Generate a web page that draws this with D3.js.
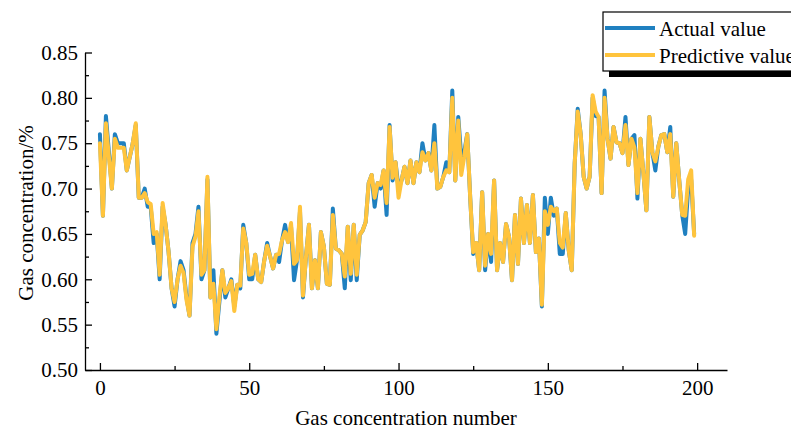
<!DOCTYPE html>
<html>
<head>
<meta charset="utf-8">
<script src="https://cdn.jsdelivr.net/npm/d3@7"></script>
<style>
  body { margin: 0; background: #fff; }
  svg { display: block; font-family: "Liberation Serif", "Times New Roman", serif; }
</style>
</head>
<body>
<div id="chart"></div>
<script>
// Measured and predicted gas concentration (%) for samples 0..199
var actualValues = [
  0.760, 0.670, 0.780, 0.740, 0.700, 0.760, 0.750, 0.750, 0.750, 0.720,
  0.735, 0.750, 0.770, 0.690, 0.690, 0.700, 0.680, 0.680, 0.640, 0.650,
  0.600, 0.680, 0.660, 0.630, 0.590, 0.570, 0.600, 0.620, 0.610, 0.580,
  0.560, 0.640, 0.650, 0.680, 0.600, 0.610, 0.710, 0.580, 0.610, 0.540,
  0.575, 0.610, 0.580, 0.590, 0.600, 0.570, 0.594, 0.590, 0.660, 0.640,
  0.600, 0.600, 0.627, 0.600, 0.597, 0.620, 0.640, 0.625, 0.612, 0.627,
  0.619, 0.643, 0.660, 0.641, 0.658, 0.599, 0.621, 0.675, 0.580, 0.625,
  0.660, 0.590, 0.621, 0.590, 0.652, 0.636, 0.595, 0.594, 0.678, 0.634,
  0.632, 0.628, 0.590, 0.658, 0.599, 0.660, 0.599, 0.649, 0.654, 0.663,
  0.706, 0.715, 0.680, 0.706, 0.700, 0.720, 0.671, 0.770, 0.709, 0.729,
  0.700, 0.709, 0.724, 0.706, 0.731, 0.706, 0.729, 0.718, 0.750, 0.731,
  0.739, 0.720, 0.770, 0.700, 0.702, 0.713, 0.729, 0.718, 0.808, 0.709,
  0.779, 0.735, 0.740, 0.760, 0.690, 0.628, 0.640, 0.610, 0.696, 0.610,
  0.650, 0.619, 0.709, 0.610, 0.640, 0.619, 0.661, 0.647, 0.599, 0.671,
  0.617, 0.689, 0.640, 0.682, 0.640, 0.693, 0.630, 0.645, 0.570, 0.690,
  0.650, 0.690, 0.670, 0.678, 0.628, 0.628, 0.673, 0.632, 0.610, 0.728,
  0.788, 0.760, 0.713, 0.700, 0.713, 0.800, 0.780, 0.779, 0.695, 0.808,
  0.755, 0.733, 0.768, 0.751, 0.750, 0.739, 0.779, 0.726, 0.755, 0.759,
  0.689, 0.755, 0.717, 0.676, 0.779, 0.740, 0.720, 0.746, 0.759, 0.760,
  0.740, 0.768, 0.691, 0.750, 0.709, 0.671, 0.650, 0.700, 0.710, 0.650
];

var predictiveValues = [
  0.750, 0.670, 0.772, 0.735, 0.700, 0.755, 0.745, 0.745, 0.745, 0.720,
  0.735, 0.750, 0.772, 0.690, 0.690, 0.695, 0.685, 0.683, 0.650, 0.652,
  0.605, 0.684, 0.660, 0.630, 0.590, 0.575, 0.600, 0.615, 0.607, 0.577,
  0.560, 0.636, 0.647, 0.675, 0.605, 0.610, 0.713, 0.580, 0.595, 0.545,
  0.580, 0.610, 0.585, 0.590, 0.598, 0.565, 0.594, 0.593, 0.656, 0.640,
  0.605, 0.606, 0.627, 0.600, 0.597, 0.620, 0.637, 0.625, 0.612, 0.627,
  0.628, 0.643, 0.652, 0.641, 0.662, 0.617, 0.621, 0.680, 0.582, 0.625,
  0.660, 0.590, 0.621, 0.590, 0.652, 0.636, 0.595, 0.594, 0.671, 0.634,
  0.632, 0.628, 0.603, 0.658, 0.606, 0.660, 0.605, 0.649, 0.654, 0.663,
  0.706, 0.715, 0.690, 0.706, 0.704, 0.720, 0.684, 0.768, 0.712, 0.729,
  0.690, 0.709, 0.724, 0.706, 0.731, 0.706, 0.729, 0.718, 0.740, 0.731,
  0.739, 0.720, 0.750, 0.700, 0.702, 0.713, 0.720, 0.718, 0.800, 0.709,
  0.775, 0.715, 0.735, 0.760, 0.690, 0.630, 0.640, 0.610, 0.696, 0.615,
  0.650, 0.628, 0.709, 0.610, 0.640, 0.619, 0.661, 0.647, 0.599, 0.671,
  0.617, 0.689, 0.640, 0.682, 0.640, 0.693, 0.630, 0.645, 0.572, 0.675,
  0.660, 0.680, 0.675, 0.678, 0.640, 0.635, 0.673, 0.632, 0.610, 0.728,
  0.785, 0.760, 0.713, 0.700, 0.713, 0.803, 0.785, 0.779, 0.695, 0.800,
  0.755, 0.733, 0.768, 0.751, 0.750, 0.739, 0.770, 0.726, 0.755, 0.745,
  0.695, 0.755, 0.717, 0.676, 0.779, 0.740, 0.730, 0.746, 0.759, 0.760,
  0.740, 0.760, 0.691, 0.750, 0.709, 0.671, 0.670, 0.710, 0.720, 0.648
];

var xTicks = [0, 50, 100, 150, 200];
var xMinorTicks = [25, 75, 125, 175];
var yTicks = [0.50, 0.55, 0.60, 0.65, 0.70, 0.75, 0.80, 0.85];
var yMinorTicks = [0.525, 0.575, 0.625, 0.675, 0.725, 0.775, 0.825];

var seriesNames = ['Actual value', 'Predictive value'];
var seriesColors = ['#1f80c0', '#ffc43d'];

var width = 791, height = 429;
var fontSize = 21;

var svg = d3.select('#chart').append('svg')
  .attr('width', width)
  .attr('height', height);

var x = d3.scaleLinear().domain([-5, 210]).range([85, 727]);
var y = d3.scaleLinear().domain([0.5, 0.85]).range([370, 52.5]);

// Axes: ticks point inward, minor ticks shorter
var xAxis = svg.append('g')
  .attr('transform', 'translate(0,' + y(0.5) + ')')
  .call(d3.axisBottom(x).tickValues(xTicks).tickSize(-7).tickSizeOuter(0).tickPadding(10).tickFormat(d3.format('d')));

svg.append('g')
  .attr('transform', 'translate(0,' + y(0.5) + ')')
  .call(d3.axisBottom(x).tickValues(xMinorTicks).tickSize(-4).tickFormat(''))
  .select('.domain').remove();

var yAxis = svg.append('g')
  .attr('transform', 'translate(' + x(-5) + ',0)')
  .call(d3.axisLeft(y).tickValues(yTicks).tickSize(-7).tickSizeOuter(0).tickPadding(7).tickFormat(d3.format('.2f')));

svg.append('g')
  .attr('transform', 'translate(' + x(-5) + ',0)')
  .call(d3.axisLeft(y).tickValues(yMinorTicks).tickSize(-4).tickFormat(''))
  .select('.domain').remove();

svg.selectAll('.domain, .tick line')
  .attr('stroke', '#000')
  .attr('stroke-width', 1.3);

svg.selectAll('.tick text')
  .attr('font-family', '"Liberation Serif", "Times New Roman", serif')
  .attr('font-size', fontSize)
  .attr('fill', '#000');

// Axis titles
svg.append('text')
  .attr('x', 406)
  .attr('y', 425)
  .attr('text-anchor', 'middle')
  .attr('font-size', fontSize)
  .text('Gas concentration number');

svg.append('text')
  .attr('transform', 'translate(33,213) rotate(-90)')
  .attr('text-anchor', 'middle')
  .attr('font-size', fontSize)
  .text('Gas concentration/%');

// Lines: actual underneath, prediction on top
var line = d3.line()
  .x(function (d, i) { return x(i); })
  .y(function (d) { return y(d); });

[actualValues, predictiveValues].forEach(function (values, k) {
  svg.append('path')
    .datum(values)
    .attr('fill', 'none')
    .attr('stroke', seriesColors[k])
    .attr('stroke-width', 4)
    .attr('stroke-linejoin', 'round')
    .attr('stroke-linecap', 'round')
    .attr('d', line);
});

// Legend with drop shadow
var legend = svg.append('g');
legend.append('rect')
  .attr('x', 609).attr('y', 18)
  .attr('width', 200).attr('height', 59)
  .attr('fill', '#000');
legend.append('rect')
  .attr('x', 603).attr('y', 12)
  .attr('width', 200).attr('height', 59)
  .attr('fill', '#fff')
  .attr('stroke', '#000')
  .attr('stroke-width', 1.2);

seriesNames.forEach(function (name, k) {
  var ly = 28 + k * 27;
  legend.append('line')
    .attr('x1', 605).attr('x2', 655)
    .attr('y1', ly).attr('y2', ly)
    .attr('stroke', seriesColors[k])
    .attr('stroke-width', 4);
  legend.append('text')
    .attr('x', 659)
    .attr('y', ly + 8)
    .attr('font-size', fontSize)
    .text(name);
});
</script>
</body>
</html>
